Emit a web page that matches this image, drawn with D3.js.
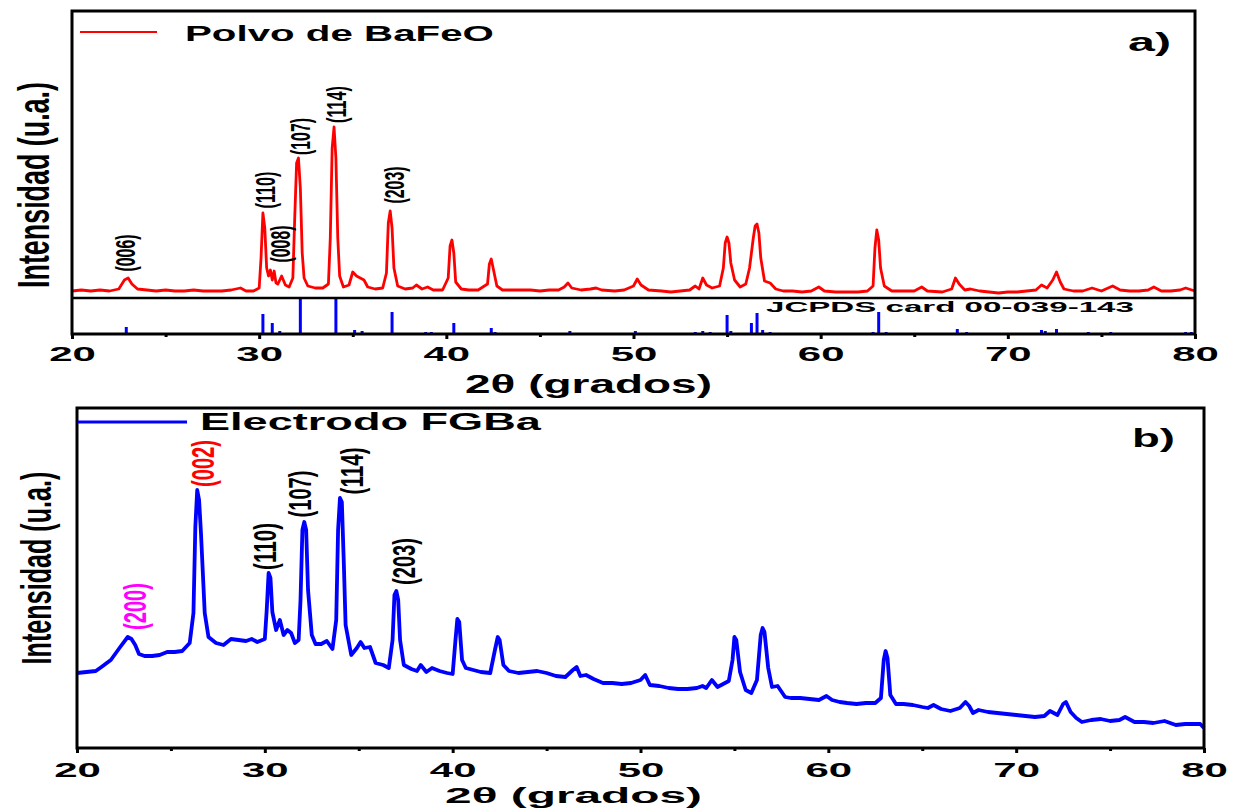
<!DOCTYPE html>
<html><head><meta charset="utf-8">
<script src="https://cdn.jsdelivr.net/npm/d3@7"></script>
<style>body{margin:0;background:#fff} svg{display:block}</style>
</head><body><svg id="c" width="1236" height="808"></svg>
<script>
// ---------- DATA ----------
const xTicks = [20, 30, 40, 50, 60, 70, 80];
const xMinorTicks = [25, 35, 45, 55, 65, 75];

// a) Polvo de BaFeO : [2theta, intensity (a.u.)]
const polvoPattern = [
[20.0,7],[20.5,8],[21.0,7],[21.5,8],[22.0,7],[22.5,9],[22.8,18],[23.0,20],[23.2,14],[23.5,9],
[24.0,8],[24.5,7],[25.0,8],[25.5,7],[26.0,7],[26.5,8],[27.0,7],[27.5,7],[28.0,7],[28.5,8],
[29.0,10],[29.3,7],[29.7,7],[30.0,10],[30.1,40],[30.2,85],[30.3,70],[30.4,30],[30.5,22],[30.6,28],
[30.7,18],[30.8,27],[30.9,15],[31.0,14],[31.2,22],[31.4,13],[31.6,11],[31.8,20],[31.9,80],[32.0,135],
[32.1,140],[32.2,110],[32.3,45],[32.4,20],[32.6,12],[33.0,10],[33.4,10],[33.7,14],[33.8,60],[33.9,150],
[34.0,171],[34.1,140],[34.2,60],[34.3,22],[34.5,11],[34.8,13],[35.0,26],[35.2,22],[35.4,20],[35.6,18],
[35.8,11],[36.2,9],[36.6,10],[36.8,25],[36.9,75],[37.0,87],[37.1,70],[37.2,30],[37.4,12],[37.8,9],
[38.2,10],[38.4,13],[38.7,9],[39.0,11],[39.3,8],[39.8,8],[40.1,20],[40.2,52],[40.3,58],[40.4,45],
[40.5,16],[40.8,9],[41.2,8],[41.7,8],[42.2,14],[42.3,34],[42.4,39],[42.5,30],[42.7,12],[43.0,8],
[43.5,8],[44.0,8],[44.5,8],[45.0,7],[45.5,8],[46.0,8],[46.3,11],[46.5,15],[46.7,10],[47.2,8],
[47.7,9],[48.0,10],[48.3,8],[49.0,7],[49.5,8],[50.0,12],[50.2,19],[50.4,13],[50.8,8],[51.5,7],
[52.0,6],[52.5,7],[53.0,8],[53.3,12],[53.5,9],[53.7,20],[53.9,13],[54.2,10],[54.6,12],[54.8,30],
[54.9,55],[55.0,61],[55.1,55],[55.2,35],[55.4,18],[55.7,11],[56.0,14],[56.2,30],[56.4,60],[56.5,72],
[56.6,74],[56.7,65],[56.8,40],[57.0,17],[57.3,15],[57.6,9],[58.0,7],[58.5,7],[59.0,6],[59.5,7],
[59.9,11],[60.2,7],[60.8,6],[61.5,6],[62.0,6],[62.5,7],[62.8,12],[62.9,50],[63.0,68],[63.1,58],
[63.2,30],[63.4,12],[63.8,7],[64.5,7],[65.0,7],[65.4,11],[65.7,7],[66.5,6],[67.0,9],[67.2,20],
[67.4,14],[67.7,8],[68.0,9],[68.5,7],[69.0,6],[69.5,5],[70.0,6],[70.5,6],[71.0,7],[71.5,8],
[71.8,13],[72.1,10],[72.4,18],[72.6,26],[72.8,16],[73.0,9],[73.5,7],[74.0,7],[74.5,10],[75.0,7],
[75.6,12],[76.0,8],[76.5,7],[77.0,7],[77.5,8],[77.8,11],[78.2,7],[78.7,7],[79.2,8],[79.5,10],[80.0,7]
];

// JCPDS card 00-039-143 reference lines: [2theta, relative intensity]
const jcpdsSticks = [
[22.9,7],[30.2,20],[30.7,11],[31.1,3],[32.2,36],[34.1,36],[35.1,4],[35.5,3],[37.1,22],[38.9,2],
[39.2,2],[40.4,11],[42.4,6],[42.6,2],[46.6,3],[47.0,1],[50.1,3],[53.3,2],[53.7,3],[54.1,2],
[55.0,19],[55.2,3],[56.3,11],[56.6,21],[56.9,4],[57.3,2],[58.0,1],[60.0,1],[62.8,2],[63.1,22],
[63.5,2],[65.5,1],[67.3,5],[67.8,2],[71.8,4],[72.0,3],[72.6,5],[74.3,2],[75.5,2],[76.2,1],
[77.8,1],[79.0,1],[79.5,2],[79.8,2]
];

// b) Electrodo FGBa : [2theta, intensity (a.u.)]
const electrodoPattern = [
[20.0,75],[20.5,76],[21.0,77],[21.3,81],[21.8,88],[22.3,101],[22.7,111],[22.9,109],[23.1,103],[23.3,94],
[23.6,92],[24.0,92],[24.4,93],[24.8,96],[25.2,96],[25.6,97],[26.0,105],[26.2,135],[26.3,221],[26.4,258],
[26.5,248],[26.6,215],[26.8,135],[27.0,111],[27.4,105],[27.8,103],[28.2,109],[28.6,108],[29.0,107],[29.3,109],
[29.6,106],[30.0,109],[30.1,138],[30.2,175],[30.3,170],[30.4,136],[30.6,118],[30.8,128],[31.0,113],[31.2,118],
[31.4,115],[31.6,105],[31.8,108],[31.9,148],[32.0,218],[32.1,226],[32.2,218],[32.3,158],[32.5,113],[32.7,104],
[33.0,104],[33.3,107],[33.6,99],[33.8,128],[33.9,218],[34.0,250],[34.1,246],[34.2,188],[34.3,123],[34.6,93],
[34.9,100],[35.1,106],[35.3,100],[35.6,101],[35.9,85],[36.3,83],[36.6,80],[36.8,108],[36.9,153],[37.0,157],
[37.1,148],[37.2,108],[37.4,83],[37.8,79],[38.1,77],[38.3,83],[38.6,76],[38.9,80],[39.3,77],[39.7,75],
[40.0,74],[40.15,108],[40.25,129],[40.35,126],[40.5,88],[40.7,80],[41.1,78],[41.5,76],[42.0,75],[42.25,98],
[42.4,111],[42.5,108],[42.7,83],[43.0,77],[43.5,75],[44.0,76],[44.5,77],[45.0,75],[45.5,72],[46.0,71],
[46.4,78],[46.6,81],[46.8,72],[47.1,73],[47.5,69],[48.0,65],[48.5,65],[49.0,64],[49.5,65],[50.0,68],
[50.25,73],[50.5,63],[51.0,62],[51.5,60],[52.0,59],[52.5,59],[53.0,60],[53.3,62],[53.5,60],[53.8,68],
[54.1,61],[54.4,64],[54.7,67],[54.9,88],[55.0,111],[55.1,108],[55.3,76],[55.6,58],[55.9,55],[56.2,68],
[56.4,113],[56.5,120],[56.6,116],[56.8,80],[57.0,61],[57.3,62],[57.7,51],[58.0,50],[58.5,50],[59.0,49],
[59.5,48],[59.9,52],[60.2,48],[60.6,46],[61.0,45],[61.5,44],[62.0,45],[62.5,45],[62.8,50],[62.95,88],
[63.05,97],[63.15,90],[63.3,53],[63.6,44],[64.0,44],[64.5,43],[65.0,41],[65.3,40],[65.6,43],[66.0,39],
[66.5,37],[67.0,40],[67.3,46],[67.5,42],[67.7,35],[68.0,38],[68.5,36],[69.0,35],[69.5,34],[70.0,33],
[70.5,32],[71.0,31],[71.5,32],[71.8,37],[72.2,33],[72.5,44],[72.65,46],[72.9,36],[73.2,30],[73.5,26],
[74.0,28],[74.5,29],[75.0,27],[75.5,28],[75.8,31],[76.3,26],[76.8,26],[77.3,25],[77.9,27],[78.5,23],
[79.0,24],[79.5,24],[79.8,24],[80.0,20]
];

// peak annotations: label, 2theta, intensity
const polvoLabels = ["(006)", "(110)", "(008)", "(107)", "(114)", "(203)"];
const polvoLabelX = [22.89, 30.37, 31.17, 32.24, 34.16, 37.26];
const polvoLabelY = [45, 108, 54, 161.5, 193.5, 113];

const electrodoLabels = ["(200)", "(002)", "(110)", "(107)", "(114)", "(203)"];
const electrodoLabelX = [23.09, 26.71, 30.01, 31.87, 34.64, 37.41];
const electrodoLabelY = [141.5, 284.5, 201.5, 254, 277, 186.5];
const electrodoLabelColors = ["#ff00ff", "#ff0000", "#000", "#000", "#000", "#000"];

// ---------- DRAW ----------
const svg = d3.select("#c");
const FONT = "'Liberation Sans', Arial, sans-serif";

function fitText(t, target) {
  const len = t.node().getComputedTextLength();
  return target / len;
}
function hText(x, y, str, size, target, anchor, opts = {}) {
  const t = svg.append("text").attr("font-family", FONT).attr("font-weight", opts.weight || "bold")
    .attr("font-size", size).attr("text-anchor", anchor).attr("dy", "0.36em")
    .attr("fill", opts.fill || "#000").text(str);
  const sx = fitText(t, target);
  t.attr("transform", `translate(${x},${y}) scale(${sx},1)`);
  return t;
}
function vText(parent, x, y, str, size, target, opts = {}) {
  const t = parent.append("text").attr("font-family", FONT).attr("font-weight", opts.weight || "normal")
    .attr("font-size", size).attr("text-anchor", "middle").attr("dominant-baseline", "central")
    .attr("fill", opts.fill || "#000").text(str);
  const sx = fitText(t, target);
  t.attr("transform", `translate(${x},${y}) rotate(-90) scale(${sx},1)`);
  return t;
}

function xAxis(g, x, y0, labelOffset) {
  const ax = d3.axisBottom(x).tickValues(xTicks).tickSize(5).tickSizeOuter(0).tickFormat(d3.format("d"));
  const ga = g.append("g").attr("transform", `translate(0,${y0})`).call(ax);
  ga.select(".domain").remove();
  ga.selectAll(".tick line").attr("stroke", "#000").attr("stroke-width", 3);
  ga.selectAll(".tick text").attr("font-family", FONT).attr("font-weight", "bold").attr("font-size", 21)
    .attr("fill", "#000").attr("y", labelOffset).attr("dy", "0.36em")
    .attr("transform", "scale(2,1)");
  const minor = d3.axisBottom(x).tickValues(xMinorTicks).tickSize(3).tickSizeOuter(0).tickFormat("");
  const gm = g.append("g").attr("transform", `translate(0,${y0})`).call(minor);
  gm.select(".domain").remove();
  gm.selectAll(".tick line").attr("stroke", "#000").attr("stroke-width", 3);
}

// ===== Panel a =====
const xa = d3.scaleLinear().domain([20, 80]).range([72, 1195]);
const ya = d3.scaleLinear().domain([0, 287]).range([298, 11]);
const ys = d3.scaleLinear().domain([0, 36]).range([334, 298]);
const ga = svg.append("g");

ga.append("g").selectAll("line").data(jcpdsSticks).join("line")
  .attr("x1", d => xa(d[0])).attr("x2", d => xa(d[0]))
  .attr("y1", ys(0)).attr("y2", d => ys(d[1]))
  .attr("stroke", "#0000ff").attr("stroke-width", 3);

ga.append("path").datum(polvoPattern)
  .attr("d", d3.line().x(d => xa(d[0])).y(d => ya(d[1])))
  .attr("fill", "none").attr("stroke", "#ff0000").attr("stroke-width", 2.8).attr("stroke-linejoin", "round");

ga.append("line").attr("x1", 72).attr("x2", 1195).attr("y1", 298).attr("y2", 298)
  .attr("stroke", "#000").attr("stroke-width", 2.5);
ga.append("rect").attr("x", 72).attr("y", 11).attr("width", 1195 - 72).attr("height", 334 - 11)
  .attr("fill", "none").attr("stroke", "#000").attr("stroke-width", 3);

xAxis(ga, xa, 334, 19);

polvoLabels.forEach((s, i) => vText(ga, xa(polvoLabelX[i]), ya(polvoLabelY[i]), s, 27, 37, { weight: "bold" }));

// legend a
ga.append("line").attr("x1", 80).attr("x2", 157).attr("y1", 32).attr("y2", 32)
  .attr("stroke", "#ff0000").attr("stroke-width", 2);
hText(185, 33, "Polvo de BaFeO", 22, 309, "start");
hText(1128, 42, "a)", 25, 43, "start");
hText(766, 307, "JCPDS card 00-039-143", 15, 368, "start");
hText(588.5, 384, "2θ (grados)", 25, 247, "middle");
vText(svg, 34, 185, "Intensidad (u.a.)", 44, 206, { weight: "bold" });

// ===== Panel b =====
const xb = d3.scaleLinear().domain([20, 80]).range([77, 1204]);
const yb = d3.scaleLinear().domain([0, 340]).range([748, 408]);
const gb = svg.append("g");

gb.append("path").datum(electrodoPattern)
  .attr("d", d3.line().x(d => xb(d[0])).y(d => yb(d[1])))
  .attr("fill", "none").attr("stroke", "#0000ff").attr("stroke-width", 3.8).attr("stroke-linejoin", "round");

gb.append("rect").attr("x", 77).attr("y", 408).attr("width", 1204 - 77).attr("height", 748 - 408)
  .attr("fill", "none").attr("stroke", "#000").attr("stroke-width", 3);

xAxis(gb, xb, 748, 21);

electrodoLabels.forEach((s, i) => vText(gb, xb(electrodoLabelX[i]), yb(electrodoLabelY[i]), s, 32, 47,
  { fill: electrodoLabelColors[i], weight: "bold" }));

gb.append("line").attr("x1", 78).attr("x2", 187).attr("y1", 422).attr("y2", 422)
  .attr("stroke", "#0000ff").attr("stroke-width", 3);
hText(200, 422, "Electrodo FGBa", 23, 341, "start");
hText(1132, 438, "b)", 25, 43, "start");
hText(573.5, 795, "2θ (grados)", 22, 257, "middle");
vText(svg, 36, 568, "Intensidad (u.a.)", 42, 193, { weight: "bold" });
</script>
</body></html>
